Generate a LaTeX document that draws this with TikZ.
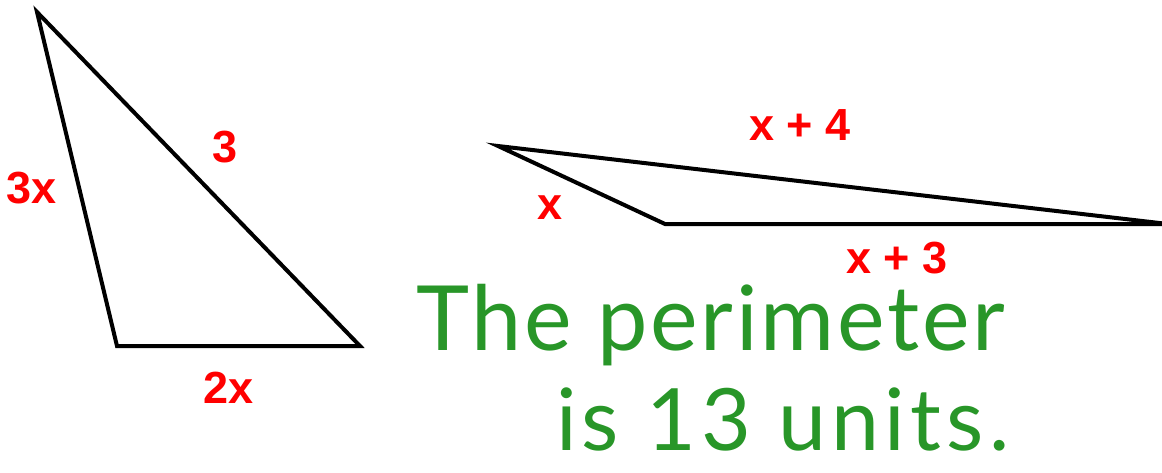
\documentclass[tikz,border=0pt]{standalone}
\usepackage{fontspec}
\setmainfont{Liberation Sans}
\newfontfamily\handfont{Lato}
\usetikzlibrary{positioning}
\definecolor{labelred}{RGB}{255,0,0}
\definecolor{penGreen}{RGB}{40,150,40}

\begin{document}
\begin{tikzpicture}[
  x=1pt, y=-1pt,
  side/.style={draw=black, line width=4pt, miter limit=10},
  lbl/.style={text=labelred, font=\fontsize{45}{45}\selectfont\bfseries, inner sep=0pt},
  hand/.style={text=penGreen, font=\handfont\fontsize{90}{90}\selectfont, inner sep=0pt, text height=64pt, anchor=base west}
]
\useasboundingbox (0,0) rectangle (1162,472);
\coordinate (a1) at (37,12);
\coordinate (a2) at (117,346);
\coordinate (a3) at (360,346);
\coordinate (b1) at (498,146);
\coordinate (b2) at (665,224);
\coordinate (b3) at (1168,224);
\draw[side] (a1) -- (a2) -- (a3) -- cycle;
\draw[side] (b1) -- (b2) -- (b3) -- cycle;
\node[lbl] (s3x) at (32,188) {3x};
\node[lbl] (s3) at (225,147) {3};
\node[lbl] (s2x) at (229,388) {2x};
\node[lbl] (sx4) at (800,125) {x + 4};
\node[lbl] (sx) at (550,208) {x};
\node[lbl] (sx3) at (897,258) {x + 3};
\node[hand] (line1) at (416,350) {\addfontfeature{LetterSpace=3}The perimeter};
\node[hand, font=\handfont\fontsize{86}{86}\selectfont] (line2) at (556,450) {\addfontfeature{LetterSpace=6}is 13 units.};
\end{tikzpicture}
\end{document}
